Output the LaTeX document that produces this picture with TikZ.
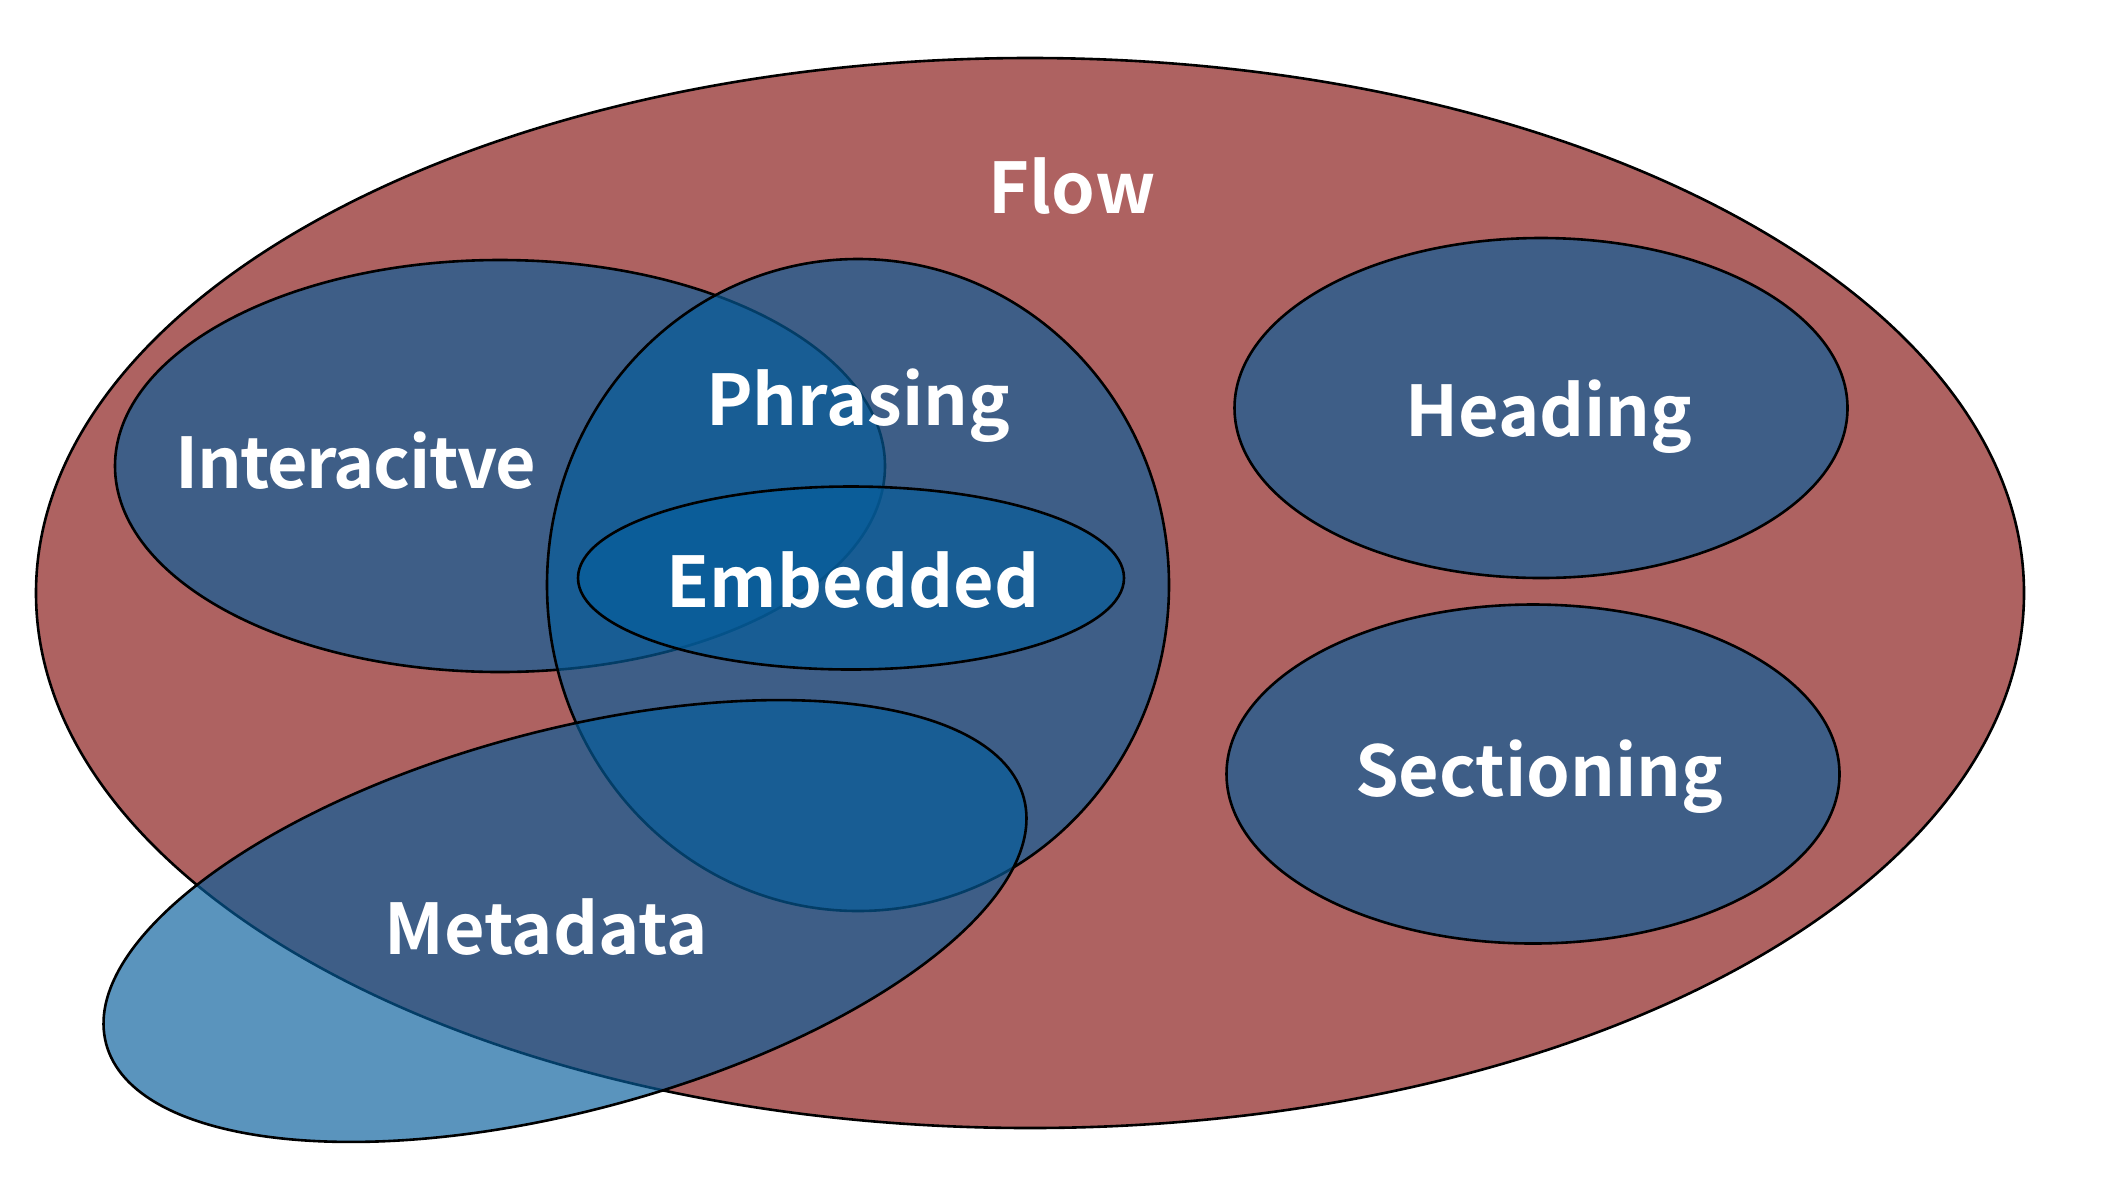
\documentclass[tikz,border=0pt]{standalone}
\usepackage{fontspec}
\setmainfont{Noto Sans CJK KR}[BoldFont={* Bold}]
\definecolor{flowred}{RGB}{174,98,97}
\definecolor{setblue}{RGB}{5,93,156}
\begin{document}
\begin{tikzpicture}[x=1pt,y=-1pt,
  outline/.style={draw=black,line width=2.6pt},
  flowset/.style={outline,fill=flowred},
  subset/.style={outline,fill=setblue,fill opacity=0.66},
  lbl/.style={text=white,font=\bfseries\fontsize{70}{84}\selectfont,anchor=base,inner sep=0pt}]
\useasboundingbox (0,0) rectangle (2108,1192);
\fill[white] (0,0) rectangle (2108,1192);
% sets
\draw[flowset] (1030,593) ellipse [x radius=994, y radius=535];
\draw[subset] (500,466) ellipse [x radius=385, y radius=206];
\draw[subset] (858,585) ellipse [x radius=311, y radius=326];
\draw[subset] (851,578) ellipse [x radius=273, y radius=91.5];
\draw[subset, rotate around={15:(565,921)}] (565,921) ellipse [x radius=475, y radius=190];
\draw[subset] (1541,408) ellipse [x radius=306.5, y radius=170];
\draw[subset] (1533,774) ellipse [x radius=306.5, y radius=169.5];
% labels
\node[lbl] (flow) at (1072,213) {Flow};
\node[lbl] (phrasing) at (858,425) {Phrasing};
\node[lbl] (interactive) at (356,488) {\addfontfeature{LetterSpace=-2}Interacitve};
\node[lbl] (embedded) at (853,607) {Embedded};
\node[lbl] (heading) at (1549,436) {Heading};
\node[lbl] (sectioning) at (1539,796) {Sectioning};
\node[lbl] (metadata) at (546,954) {Metadata};
\end{tikzpicture}
\end{document}
